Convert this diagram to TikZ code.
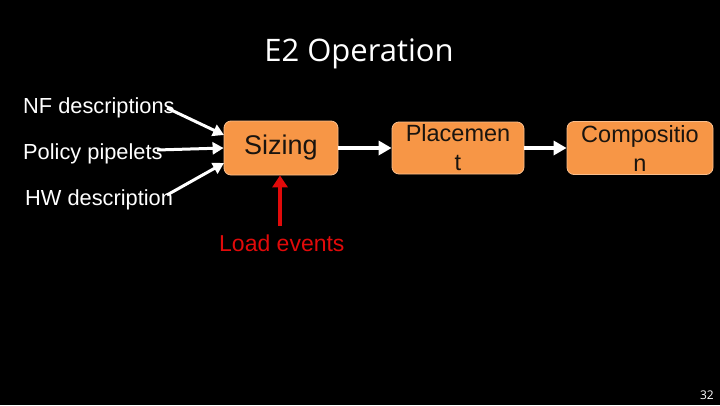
\documentclass[tikz,border=0pt]{standalone}
\usepackage{fontspec}
\setmainfont{Liberation Sans}
\newfontfamily\titlefont{Open Sans}
\usetikzlibrary{arrows.meta}
\definecolor{boxfill}{RGB}{247,150,70}
\definecolor{boxline}{RGB}{250,190,140}
\definecolor{loadred}{RGB}{225,10,10}
\definecolor{boxtext}{RGB}{25,20,15}
\tikzset{
  stagebox/.style={draw=boxline, line width=0.8pt, fill=boxfill, rounded corners=7pt,
    inner sep=0pt, text=boxtext, align=center, font=\fontsize{23.5}{29}\selectfont},
  inlabel/.style={anchor=base west, inner sep=0pt, text=white, font=\fontsize{21.8}{24}\selectfont},
  whitearrow/.style={draw=white, line width=3pt, -{Triangle[length=11pt,width=12pt]}},
  bigarrow/.style={draw=white, line width=4.5pt, -{Triangle[length=13pt,width=14pt]}},
  redarrow/.style={draw=loadred, line width=4.5pt, -{Triangle[length=12pt,width=15pt]}}
}
\begin{document}
\begin{tikzpicture}[x=1pt,y=-1pt]
\fill[black] (0,0) rectangle (720,405);
\useasboundingbox (0,0) rectangle (720,405);

\node[anchor=base, inner sep=0pt, text=white, font=\titlefont\fontsize{31}{36}\selectfont] (title) at (359,61) {E2 Operation};

\node[stagebox, minimum width=114pt, minimum height=54pt, font=\fontsize{27}{30}\selectfont] (sizing) at (281,148) {Sizing};
\node[stagebox, minimum width=132pt, minimum height=52pt, text width=132pt] (place) at (458,148) {Placemen\\t};
\node[stagebox, minimum width=146pt, minimum height=53pt, text width=146pt] (comp) at (640,148) {Compositio\\n};

\node[inlabel] (nf) at (23,113) {NF descriptions};
\node[inlabel] (pol) at (23,159) {Policy pipelets};
\node[inlabel] (hw) at (25,205) {HW description};

\coordinate (nfend) at (167,108);
\coordinate (polend) at (157,150);
\coordinate (hwend) at (167,195);
\coordinate (sznf) at (224,135);
\coordinate (szhw) at (224,163);

\draw[whitearrow] (nfend) -- (sznf);
\draw[whitearrow] (polend) -- (sizing.west);
\draw[whitearrow] (hwend) -- (szhw);

\draw[bigarrow] (sizing.east) -- (place.west);
\draw[bigarrow] (place.east) -- (comp.west);

\node[anchor=base west, inner sep=0pt, text=loadred, font=\fontsize{23}{26}\selectfont] (load) at (219,251) {Load events};
\coordinate (loadtop) at (280,226);
\draw[redarrow] (loadtop) -- (sizing.south -| loadtop);

\node[anchor=base east, inner sep=0pt, text=white, font=\titlefont\fontsize{12}{14}\selectfont] (pnum) at (714,399) {32};
\end{tikzpicture}
\end{document}
